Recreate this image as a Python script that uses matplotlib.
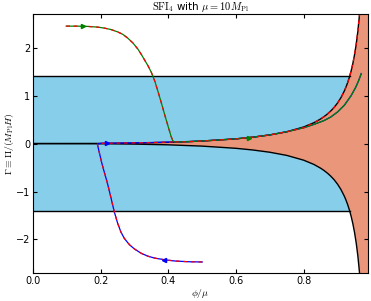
import numpy as np
import matplotlib.pyplot as plt

plt.rcParams['mathtext.fontset'] = 'cm'
plt.rcParams['font.family'] = 'DejaVu Sans'

# slow-roll boundary Gamma_b(phi/mu)
bound_x = [0.0, 0.1, 0.2, 0.3, 0.4, 0.5, 0.6, 0.65, 0.7, 0.75, 0.8, 0.83, 0.85,
           0.86, 0.87, 0.88, 0.89, 0.9, 0.91, 0.92, 0.925, 0.93, 0.935, 0.94,
           0.945, 0.95, 0.955, 0.96, 0.965, 0.97, 0.975, 0.98, 0.99]
bound_y = [0.0, 0.0004, 0.0032, 0.011, 0.026, 0.053, 0.099, 0.134, 0.181, 0.247,
           0.347, 0.435, 0.514, 0.562, 0.617, 0.681, 0.756, 0.848, 0.959, 1.098,
           1.182, 1.277, 1.387, 1.515, 1.667, 1.849, 2.071, 2.348, 2.707, 3.183,
           3.85, 4.85, 9.85]
gamma_max = 1.414
x_cross = 0.937

# trajectory from above (green = full solution, red dashed = slow-roll)
up_x = [0.098, 0.13, 0.16, 0.19, 0.21, 0.23, 0.25, 0.265, 0.28, 0.295, 0.31,
        0.32, 0.33, 0.34, 0.35, 0.36, 0.37, 0.38, 0.39, 0.40, 0.408, 0.413,
        0.418, 0.45, 0.5, 0.55, 0.6, 0.65, 0.7, 0.75, 0.8]
up_y = [2.45, 2.45, 2.445, 2.43, 2.41, 2.38, 2.33, 2.28, 2.20, 2.10, 1.97,
        1.86, 1.74, 1.62, 1.48, 1.30, 1.07, 0.83, 0.58, 0.34, 0.15, 0.06,
        0.035, 0.036, 0.055, 0.075, 0.099, 0.134, 0.181, 0.247, 0.33]
full_tail_x = [0.83, 0.86, 0.88, 0.9, 0.92, 0.93, 0.94, 0.954, 0.962, 0.97]
full_tail_y = [0.40, 0.48, 0.555, 0.66, 0.80, 0.90, 1.0, 1.18, 1.31, 1.46]

# trajectory from below (blue = full solution, red dashed = slow-roll)
low_x = [0.5, 0.46, 0.42, 0.39, 0.36, 0.34, 0.32, 0.30, 0.285, 0.27, 0.26,
         0.25, 0.24, 0.23, 0.22, 0.21, 0.203, 0.197, 0.192, 0.19, 0.2, 0.25,
         0.3, 0.35, 0.418]
low_y = [-2.47, -2.465, -2.45, -2.425, -2.39, -2.35, -2.29, -2.20, -2.11,
         -1.98, -1.85, -1.66, -1.42, -1.12, -0.83, -0.58, -0.40, -0.22, -0.07,
         -0.01, 0.005, 0.01, 0.015, 0.022, 0.035]

fig = plt.figure(figsize=(3.71, 3.01), dpi=100)
ax = fig.add_axes([0.089, 0.093, 0.903, 0.860])

bx = np.array(bound_x)
by = np.array(bound_y)

# allowed region and slow-roll wedge
ax.fill_between([0, x_cross], -gamma_max, gamma_max, color='skyblue', lw=0)
ax.fill_between(bx, -by, by, color='darksalmon', lw=0)
ax.plot([0, x_cross], [gamma_max, gamma_max], color='k', lw=1)
ax.plot([0, x_cross], [-gamma_max, -gamma_max], color='k', lw=1)
ax.plot(bx, by, color='k', lw=1)
ax.plot(bx, -by, color='k', lw=1)

sr_x = list(bx[bx > 0.8])
sr_y = list(by[bx > 0.8])

# full solutions
ax.plot(low_x + up_x[22:] + full_tail_x, low_y + up_y[22:] + full_tail_y,
        color='b', lw=0.9)
ax.plot(up_x + full_tail_x, up_y + full_tail_y, color='g', lw=0.9)
# slow-roll approximation
ax.plot(up_x + sr_x, up_y + sr_y, 'r--', lw=0.9, dashes=(3, 3))
ax.plot(low_x, low_y, 'r--', lw=0.9, dashes=(3, 3))

# direction arrows
ax.plot([0.147], [2.45], marker='>', color='g', ms=3, mec='g')
ax.plot([0.638], [0.12], marker='>', color='g', ms=3, mec='g')
ax.plot([0.218], [0.01], marker='>', color='b', ms=3, mec='b')
ax.plot([0.386], [-2.42], marker='<', color='b', ms=3, mec='b')

ax.set_xlim(0, 0.99)
ax.set_ylim(-2.7, 2.7)
ax.set_xticks([0.0, 0.2, 0.4, 0.6, 0.8])
ax.set_yticks([-2, -1, 0, 1, 2])
ax.tick_params(direction='in', top=True, right=True, labelsize=7, length=3,
               pad=2)
ax.set_xlabel(r'$\phi/\mu$', fontsize=7, labelpad=1)
ax.set_ylabel(r'$\Gamma \equiv \Pi/(M_{\rm Pl}H)$', fontsize=7, labelpad=0)
ax.set_title(r'$\mathrm{SFI}_4$ with $\mu = 10M_{\rm Pl}$', fontsize=7.5, pad=3)

fig.savefig('out.png', dpi=100)
